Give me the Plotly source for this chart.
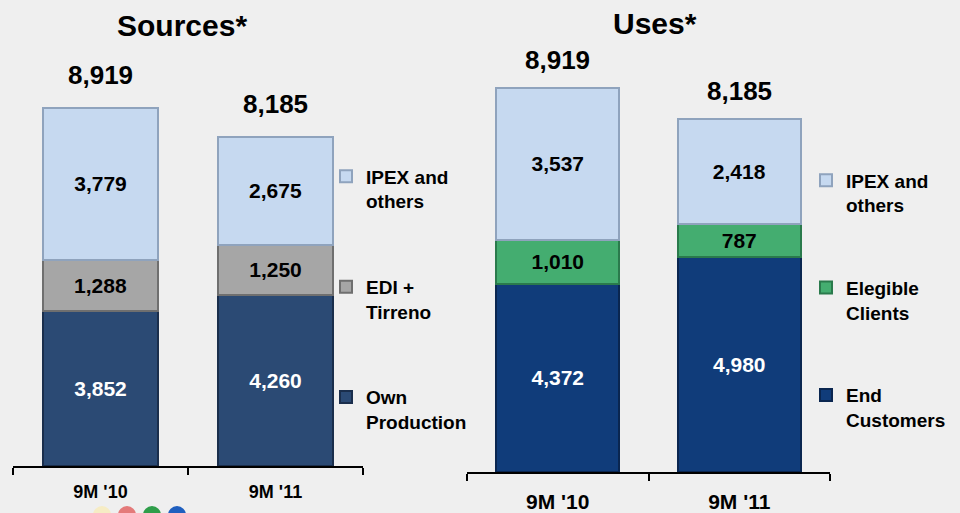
import plotly.graph_objects as go

# ---- data ----
periods = ["9M '10", "9M '11"]

src_names = ["Own<br>Production", "EDI +<br>Tirreno", "IPEX and<br>others"]
src_own = [3852, 4260]
src_edi = [1288, 1250]
src_ipex = [3779, 2675]

use_names = ["End<br>Customers", "Elegible<br>Clients", "IPEX and<br>others"]
use_end = [4372, 4980]
use_elig = [1010, 787]
use_ipex = [3537, 2418]

titles = ["Sources*", "Uses*"]

# ---- styles ----
FONT = "Liberation Sans, Arial, sans-serif"
LIGHT = "#c6d9f0"
LIGHT_LINE = "#8fa3bd"
GRAY = "#a6a6a6"
GRAY_LINE = "#6f6f6f"
NAVY_L = "#2b4a74"
NAVY_L_LINE = "#1a2e4c"
NAVY_R = "#103c7a"
NAVY_R_LINE = "#0a2650"
GREEN = "#44ad70"
GREEN_LINE = "#2a7a4c"

fig = go.Figure()


def add_bar(y, name, color, line, txtcolor, xa, ya, legend, width, group, rank):
    fig.add_trace(go.Bar(
        x=periods, y=y, name=name,
        marker=dict(color=color, line=dict(color=line, width=2)),
        width=width,
        texttemplate="%{y:,}", textposition="inside", insidetextanchor="middle",
        textangle=0,
        textfont=dict(family=FONT, size=21, color=txtcolor, weight="bold"),
        xaxis=xa, yaxis=ya, legend=legend, legendgroup=group, legendrank=rank,
        hoverinfo="skip",
    ))


# Sources (left)
add_bar(src_own, src_names[0], NAVY_L, NAVY_L_LINE, "white", "x", "y", "legend", 0.66, "s1", 3)
add_bar(src_edi, src_names[1], GRAY, GRAY_LINE, "black", "x", "y", "legend", 0.66, "s2", 2)
add_bar(src_ipex, src_names[2], LIGHT, LIGHT_LINE, "black", "x", "y", "legend", 0.66, "s3", 1)

# Uses (right)
add_bar(use_end, use_names[0], NAVY_R, NAVY_R_LINE, "white", "x2", "y2", "legend2", 0.68, "u1", 3)
add_bar(use_elig, use_names[1], GREEN, GREEN_LINE, "black", "x2", "y2", "legend2", 0.68, "u2", 2)
add_bar(use_ipex, use_names[2], LIGHT, LIGHT_LINE, "black", "x2", "y2", "legend2", 0.68, "u3", 1)

src_tot = [a + b + c for a, b, c in zip(src_own, src_edi, src_ipex)]
use_tot = [a + b + c for a, b, c in zip(use_end, use_elig, use_ipex)]

annotations = []
for p, t in zip(periods, src_tot):
    annotations.append(dict(x=p, y=t, xref="x", yref="y", text=f"{t:,}",
                            showarrow=False, yanchor="middle", yshift=33,
                            font=dict(family=FONT, size=26, color="black", weight="bold")))
for p, t in zip(periods, use_tot):
    annotations.append(dict(x=p, y=t, xref="x2", yref="y2", text=f"{t:,}",
                            showarrow=False, yanchor="middle", yshift=28,
                            font=dict(family=FONT, size=26, color="black", weight="bold")))
annotations.append(dict(x=182 / 960, y=1 - 26 / 513, xref="paper", yref="paper",
                        text=titles[0], showarrow=False, xanchor="center", yanchor="middle",
                        font=dict(family=FONT, size=30, color="black", weight="bold")))
annotations.append(dict(x=655 / 960, y=1 - 24 / 513, xref="paper", yref="paper",
                        text=titles[1], showarrow=False, xanchor="center", yanchor="middle",
                        font=dict(family=FONT, size=30, color="black", weight="bold")))

# decorative logo circles at bottom edge
shapes = []
for cx, col in [(102, "#f6ecc4"), (127, "#e47a7a"), (152, "#2f9e4a"), (177, "#1f5fbf")]:
    r = 9
    shapes.append(dict(type="circle", xref="paper", yref="paper",
                       x0=(cx - r) / 960, x1=(cx + r) / 960,
                       y0=1 - (508 + 2 * r) / 513, y1=1 - 508 / 513,
                       fillcolor=col, line=dict(width=0), layer="below"))

xaxis_common = dict(type="category", showline=True, linecolor="black", linewidth=2,
                    ticks="outside", tickson="boundaries", ticklen=7, tickcolor="black",
                    tickwidth=2, showgrid=False, zeroline=False, fixedrange=True)
yaxis_common = dict(visible=False, showgrid=False, zeroline=False, fixedrange=True)

legend_common = dict(orientation="v", xanchor="left", yanchor="top", bgcolor="rgba(0,0,0,0)",
                     font=dict(family=FONT, size=19, color="black", weight="bold"),
                     traceorder="grouped", valign="top", itemwidth=30)

fig.update_layout(
    width=960, height=513,
    margin=dict(l=0, r=0, t=0, b=0),
    paper_bgcolor="#efefef", plot_bgcolor="rgba(0,0,0,0)",
    barmode="stack",
    showlegend=True,
    xaxis=dict(domain=[13 / 960, 363 / 960], anchor="y", ticklabelstandoff=8,
               tickfont=dict(family=FONT, size=18, color="black", weight="bold"), **xaxis_common),
    yaxis=dict(domain=[1 - 468 / 513, 1], range=[0, 11595], anchor="x", **yaxis_common),
    xaxis2=dict(domain=[467 / 960, 830 / 960], anchor="y2", ticklabelstandoff=10,
                tickfont=dict(family=FONT, size=21, color="black", weight="bold"), **xaxis_common),
    yaxis2=dict(domain=[1 - 474 / 513, 1], range=[0, 10952], anchor="x2", **yaxis_common),
    legend=dict(x=326 / 960, y=1 - 158 / 513, tracegroupgap=58, **legend_common),
    legend2=dict(x=806 / 960, y=1 - 162 / 513, tracegroupgap=55, **legend_common),
    annotations=annotations,
    shapes=shapes,
)

fig.write_html("out.html", config={"displayModeBar": False},
               post_script="document.body.style.margin='0';document.body.style.background='#efefef';")
